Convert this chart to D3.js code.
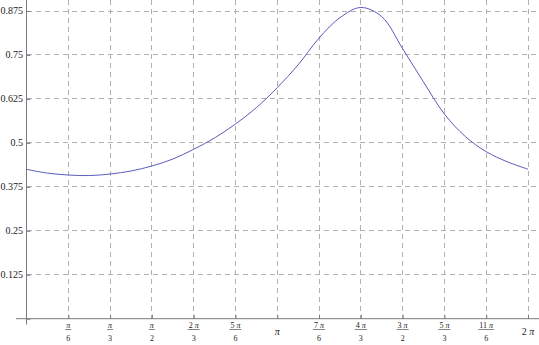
<!DOCTYPE html>
<html><head><meta charset="utf-8">
<script src="https://cdn.jsdelivr.net/npm/d3@7"></script>
<style>body{margin:0;background:#fff}svg{display:block}</style>
</head><body>
<svg id="chart" width="539" height="345"></svg>
<script>
// Curve samples (x in radians, y value)
const xValues = [0, 0.2618, 0.5236, 0.7854, 1.0472, 1.309, 1.5708, 1.8326, 2.0944, 2.3562, 2.618, 2.8798, 3.1416, 3.4034, 3.6652, 3.927, 4.1888, 4.4506, 4.7124, 4.9742, 5.236, 5.4978, 5.7596, 6.0214, 6.2832];
const yValues = [0.4248, 0.414, 0.4086, 0.407, 0.4114, 0.420, 0.4342, 0.454, 0.4817, 0.514, 0.5536, 0.600, 0.657, 0.722, 0.798, 0.856, 0.885, 0.859, 0.768, 0.673, 0.582, 0.518, 0.475, 0.4464, 0.4252];

// x ticks: multiples of pi/6 with fraction labels
const xTickSixths = [1,2,3,4,5,6,7,8,9,10,11,12];
const xTickNumerators = ["π","π","π","2 π","5 π","π","7 π","4 π","3 π","5 π","11 π","2 π"];
const xTickDenominators = ["6","3","2","3","6","","6","3","2","3","6",""];
// y ticks
const yTickValues = [0.125, 0.25, 0.375, 0.5, 0.625, 0.75, 0.875];
const yTickLabels = ["0.125","0.25","0.375","0.5","0.625","0.75","0.875"];

const svg = d3.select("#chart");
const W = 539, H = 345;
const x = d3.scaleLinear().domain([0, 2*Math.PI]).range([26.5, 528]);
const y = d3.scaleLinear().domain([0, 0.875]).range([318.7, 11]);
const xTicks = xTickSixths.map(k => k*Math.PI/6);

const gridColor = "#b0b0b0";
const axisColor = "#7a7a7a";
const font = "'Liberation Serif','Times New Roman',serif";

// grid
svg.append("g").selectAll("line").data(xTicks).join("line")
  .attr("x1", d => x(d)).attr("x2", d => x(d))
  .attr("y1", 0).attr("y2", y(0))
  .attr("stroke", gridColor).attr("stroke-width", 1).attr("stroke-dasharray", "5,4")
  .attr("shape-rendering", "crispEdges");
svg.append("g").selectAll("line").data(yTickValues).join("line")
  .attr("x1", x(0)).attr("x2", W)
  .attr("y1", d => y(d)).attr("y2", d => y(d))
  .attr("stroke", gridColor).attr("stroke-width", 1).attr("stroke-dasharray", "5,4")
  .attr("shape-rendering", "crispEdges");

// x axis
const xAxis = d3.axisTop(x).tickValues(xTicks).tickSize(4).tickFormat("");
const gx = svg.append("g").attr("transform", `translate(0,${y(0)})`).call(xAxis);
gx.select(".domain").remove();
gx.selectAll(".tick line").attr("stroke", axisColor);
gx.append("line").attr("x1", 16).attr("x2", W).attr("y1", 0).attr("y2", 0).attr("stroke", axisColor);

// y axis
const yAxis = d3.axisRight(y).tickValues([0].concat(yTickValues)).tickSize(4).tickFormat("");
const gy = svg.append("g").attr("transform", `translate(${x(0)},0)`).call(yAxis);
gy.select(".domain").remove();
gy.selectAll(".tick line").attr("stroke", axisColor);
gy.append("line").attr("x1", 0).attr("x2", 0).attr("y1", 0).attr("y2", 324.5).attr("stroke", axisColor);

// y labels
svg.append("g").selectAll("text").data(yTickValues).join("text")
  .attr("x", 23).attr("y", d => y(d)).attr("dy", "0.33em")
  .attr("text-anchor", "end").attr("font-family", font).attr("font-size", 10).attr("fill", "#222")
  .text((d,i) => yTickLabels[i]);

// x labels (fractions)
function piText(sel, str) {
  const parts = str.split("π");
  sel.append("tspan").text(parts[0]);
  sel.append("tspan").attr("font-style", "italic").text("π");
}
xTicks.forEach((t, i) => {
  const cx = x(t);
  const g = svg.append("g").attr("font-family", font).attr("fill", "#222");
  if (xTickDenominators[i] === "") {
    const tx = g.append("text").attr("x", cx).attr("y", 335).attr("text-anchor", "middle").attr("font-size", 10);
    piText(tx, xTickNumerators[i]);
  } else {
    const num = g.append("text").attr("x", cx).attr("y", 327.5).attr("text-anchor", "middle").attr("font-size", 8);
    piText(num, xTickNumerators[i]);
    const w = num.node().getComputedTextLength();
    g.append("line").attr("x1", cx - w/2 - 1).attr("x2", cx + w/2 + 1)
      .attr("y1", 329.5).attr("y2", 329.5).attr("stroke", "#333").attr("stroke-width", 0.6);
    g.append("text").attr("x", cx).attr("y", 341).attr("text-anchor", "middle").attr("font-size", 8)
      .text(xTickDenominators[i]);
  }
});

// curve
const data = xValues.map((v, i) => [v, yValues[i]]);
svg.append("path").datum(data)
  .attr("fill", "none").attr("stroke", "#5b5bbd").attr("stroke-width", 1)
  .attr("d", d3.line().x(d => x(d[0])).y(d => y(d[1])).curve(d3.curveCatmullRom.alpha(0.5)));
</script>
</body></html>
